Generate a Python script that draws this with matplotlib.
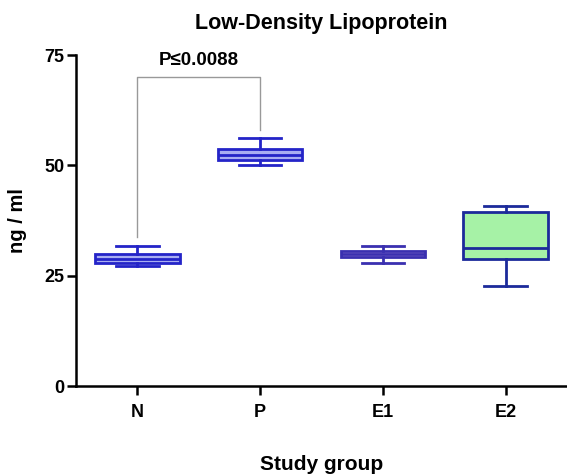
#!/usr/bin/env python3
"""Box plot of LDL levels per study group."""

import matplotlib
matplotlib.use("Agg")
import matplotlib.pyplot as plt

plt.rcParams["font.family"] = ["Liberation Sans", "DejaVu Sans"]
plt.rcParams["font.weight"] = "bold"

groups = ["N", "P", "E1", "E2"]
whis_low = [27.2, 50.1, 27.8, 22.7]
q1 = [27.8, 51.2, 29.2, 28.9]
median = [28.7, 52.4, 29.9, 31.4]
q3 = [29.9, 53.7, 30.7, 39.4]
whis_high = [31.8, 56.2, 31.7, 40.8]

fills = ["#a9aef2", "#a9aef2", "#dcb2e6", "#a6f2a6"]
edges = ["#2424c8", "#2424c8", "#3a30b0", "#1c2a9a"]

p_text = "P\u22640.0088"
bracket_top = 70.0
bracket_left_end = 33.8
bracket_right_end = 58.0

stats = [
    {"whislo": lo, "q1": a, "med": m, "q3": b, "whishi": hi, "label": g}
    for g, lo, a, m, b, hi in zip(groups, whis_low, q1, median, q3, whis_high)
]

fig = plt.figure(figsize=(5.67, 4.75), dpi=100)
ax = fig.add_axes([0.134, 0.187, 0.866, 0.697])

pos = list(range(len(groups)))
bp = ax.bxp(stats, positions=pos, widths=0.69, patch_artist=True, showfliers=False)
for i, box in enumerate(bp["boxes"]):
    box.set_facecolor(fills[i])
    box.set_edgecolor(edges[i])
    box.set_linewidth(2.0)
for i, line in enumerate(bp["medians"]):
    line.set_color(edges[i])
    line.set_linewidth(2.0)
for i in range(len(groups)):
    for line in bp["whiskers"][2 * i:2 * i + 2] + bp["caps"][2 * i:2 * i + 2]:
        line.set_color(edges[i])
        line.set_linewidth(2.0)

# significance bracket between N and P
ax.plot([0, 0, 1, 1],
        [bracket_left_end, bracket_top, bracket_top, bracket_right_end],
        color="0.6", linewidth=1.0)
ax.text(0.5, bracket_top + 1.8, p_text, ha="center", va="bottom",
        fontsize=13.5, fontweight="bold")

ax.set_xlim(-0.5, 3.5)
ax.set_ylim(0, 75)
ax.set_yticks([0, 25, 50, 75])
ax.set_xticks(pos)
ax.set_xticklabels(groups)
for side in ("top", "right"):
    ax.spines[side].set_visible(False)
for side in ("left", "bottom"):
    ax.spines[side].set_linewidth(1.8)
ax.tick_params(axis="both", direction="out", length=6.5, width=1.8,
               labelsize=13)
ax.tick_params(axis="x", pad=6)
ax.tick_params(axis="y", pad=2)

ax.set_title("Low-Density Lipoprotein", fontsize=15.5, fontweight="bold", pad=19)
ax.set_xlabel("Study group", fontsize=15, fontweight="bold", labelpad=25)
ax.set_ylabel("ng / ml", fontsize=14.5, fontweight="bold", labelpad=12)

fig.savefig("out.png", dpi=100)
